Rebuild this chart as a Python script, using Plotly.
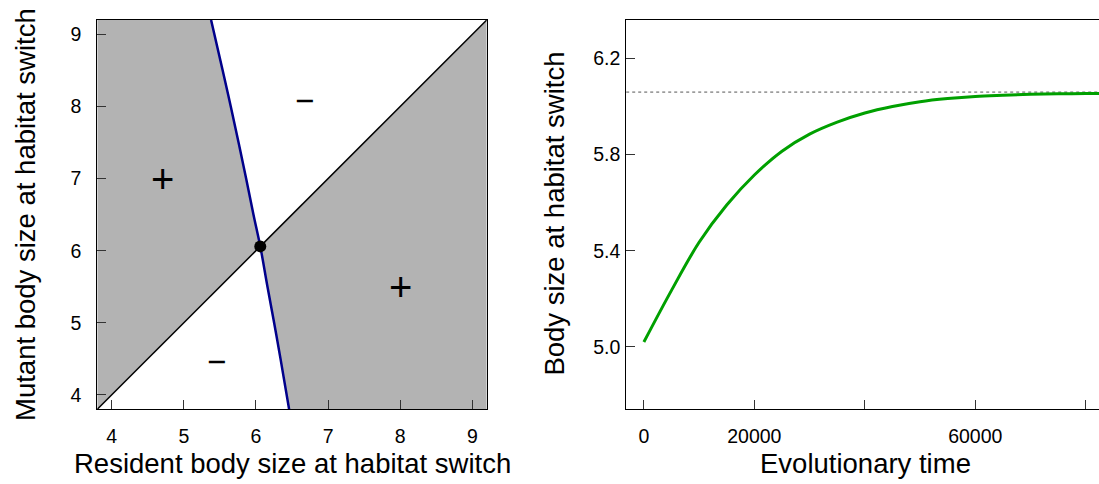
import plotly.graph_objects as go

# ---------------- data ----------------
ess = 6.06
# invasion boundary curve (mutant size y -> resident size x)
curve_mutant = [3.8, 4.5, 5.0, 5.5, 6.06, 6.5, 7.0, 7.5, 8.0, 8.5, 9.2]
curve_resident = [6.46, 6.341, 6.252, 6.160, 6.06, 5.966, 5.864, 5.759, 5.651, 5.539, 5.378]
pip_min, pip_max = 3.8, 9.2
pip_ticks = [4, 5, 6, 7, 8, 9]
plus_x = [4.7, 8.0]
plus_y = [7.0, 5.5]
minus_x = [6.68, 5.46]
minus_y = [8.08, 4.47]

time = [0, 5000, 10000, 15000, 20000, 25000, 30000, 35000, 40000, 45000,
        50000, 55000, 60000, 65000, 70000, 75000, 80000, 85000]
size = [5.02, 5.235, 5.435, 5.59, 5.715, 5.814, 5.885, 5.935, 5.973, 6.000,
        6.020, 6.033, 6.042, 6.047, 6.051, 6.053, 6.054, 6.055]
t_ticks = [0, 20000, 40000, 60000, 80000]
t_ticktext = ["0", "20000", "", "60000", ""]
s_ticks = [5.0, 5.4, 5.8, 6.2]
s_ticktext = ["5.0", "5.4", "5.8", "6.2"]

FONT = "Liberation Sans, Arial, Helvetica, sans-serif"
GRAY = "#b3b3b3"

fig = go.Figure()

# ---- left panel: gray regions ----
ci = curve_mutant.index(ess)
upper_part_x = curve_resident[ci:]          # from ess up to top
upper_part_y = curve_mutant[ci:]
lower_part_x = curve_resident[:ci + 1]      # from bottom to ess
lower_part_y = curve_mutant[:ci + 1]

left_poly_x = [pip_min, pip_min] + upper_part_x[::-1] + [ess, pip_min]
left_poly_y = [pip_min, pip_max] + upper_part_y[::-1] + [ess, pip_min]
fig.add_trace(go.Scatter(x=left_poly_x, y=left_poly_y, fill="toself", fillcolor=GRAY,
                         line=dict(width=0), mode="lines", hoverinfo="skip",
                         xaxis="x", yaxis="y"))
right_poly_x = [ess] + lower_part_x[::-1][1:] + [pip_max, pip_max, ess]
right_poly_y = [ess] + lower_part_y[::-1][1:] + [pip_min, pip_max, ess]
fig.add_trace(go.Scatter(x=right_poly_x, y=right_poly_y, fill="toself", fillcolor=GRAY,
                         line=dict(width=0), mode="lines", hoverinfo="skip",
                         xaxis="x", yaxis="y"))
# diagonal
fig.add_trace(go.Scatter(x=[pip_min, pip_max], y=[pip_min, pip_max], mode="lines",
                         line=dict(color="black", width=1.5), xaxis="x", yaxis="y"))
# boundary curve
fig.add_trace(go.Scatter(x=curve_resident, y=curve_mutant, mode="lines",
                         line=dict(color="#00008B", width=2.5, shape="spline"),
                         xaxis="x", yaxis="y"))
# singular point
fig.add_trace(go.Scatter(x=[ess], y=[ess], mode="markers",
                         marker=dict(color="black", size=12), xaxis="x", yaxis="y"))

# ---- right panel ----
fig.add_trace(go.Scatter(x=time, y=size, mode="lines",
                         line=dict(color="#00a000", width=3, shape="spline"),
                         xaxis="x2", yaxis="y2"))

fig.add_shape(type="line", xref="x2 domain", yref="y2", x0=0, x1=1, y0=ess, y1=ess,
              line=dict(color="#555555", width=1, dash="dot"), layer="below")

tickfont = dict(family=FONT, size=19.5, color="black")
axis_common = dict(showgrid=False, zeroline=False, showline=True, linecolor="black",
                   linewidth=1, ticks="inside", ticklen=9, tickcolor="#333333",
                   tickwidth=1, tickfont=tickfont)

fig.update_layout(
    width=1099, height=484,
    margin=dict(l=0, r=0, t=0, b=0),
    paper_bgcolor="white", plot_bgcolor="white",
    showlegend=False,
    xaxis=dict(domain=[0.0885, 0.4429], range=[pip_min, pip_max], tickvals=pip_ticks,
               mirror=True, anchor="y", ticklabelstandoff=9, **axis_common),
    yaxis=dict(domain=[0.1543, 0.9587], range=[pip_min, pip_max], tickvals=pip_ticks,
               mirror=True, anchor="x", ticklabelstandoff=11, **axis_common),
    xaxis2=dict(domain=[0.5698, 1.0], range=[-3200, 82400], tickvals=t_ticks,
                ticktext=t_ticktext, mirror=True, anchor="y2", ticklabelstandoff=9,
                **axis_common),
    yaxis2=dict(domain=[0.1543, 0.9587], range=[4.74, 6.36], tickvals=s_ticks,
                ticktext=s_ticktext, mirror=False, anchor="x2", ticklabelstandoff=1,
                **axis_common),
)

for xv, yv in zip(plus_x, plus_y):
    fig.add_annotation(text="+", x=xv, y=yv, xref="x", yref="y", showarrow=False,
                       font=dict(family=FONT, size=40, color="black"))
for xv, yv in zip(minus_x, minus_y):
    fig.add_annotation(text="\u2212", x=xv, y=yv, xref="x", yref="y", showarrow=False,
                       font=dict(family=FONT, size=33, color="black"))

title_font = dict(family=FONT, size=27.5, color="black")
fig.add_annotation(text="Resident body size at habitat switch", x=292 / 1099, y=1 - 463 / 484,
                   xref="paper", yref="paper", showarrow=False, font=title_font,
                   xanchor="center", yanchor="middle")
fig.add_annotation(text="Mutant body size at habitat switch", x=25 / 1099, y=1 - 215 / 484,
                   xref="paper", yref="paper", showarrow=False, font=title_font,
                   textangle=-90, xanchor="center", yanchor="middle")
fig.add_annotation(text="Evolutionary time", x=865.7 / 1099, y=1 - 463 / 484,
                   xref="paper", yref="paper", showarrow=False, font=title_font,
                   xanchor="center", yanchor="middle")
fig.add_annotation(text="Body size at habitat switch", x=553.6 / 1099, y=1 - 214 / 484,
                   xref="paper", yref="paper", showarrow=False, font=title_font,
                   textangle=-90, xanchor="center", yanchor="middle")

fig.write_html("out.html", config={"displayModeBar": False},
               post_script="document.body.style.margin='0';")
